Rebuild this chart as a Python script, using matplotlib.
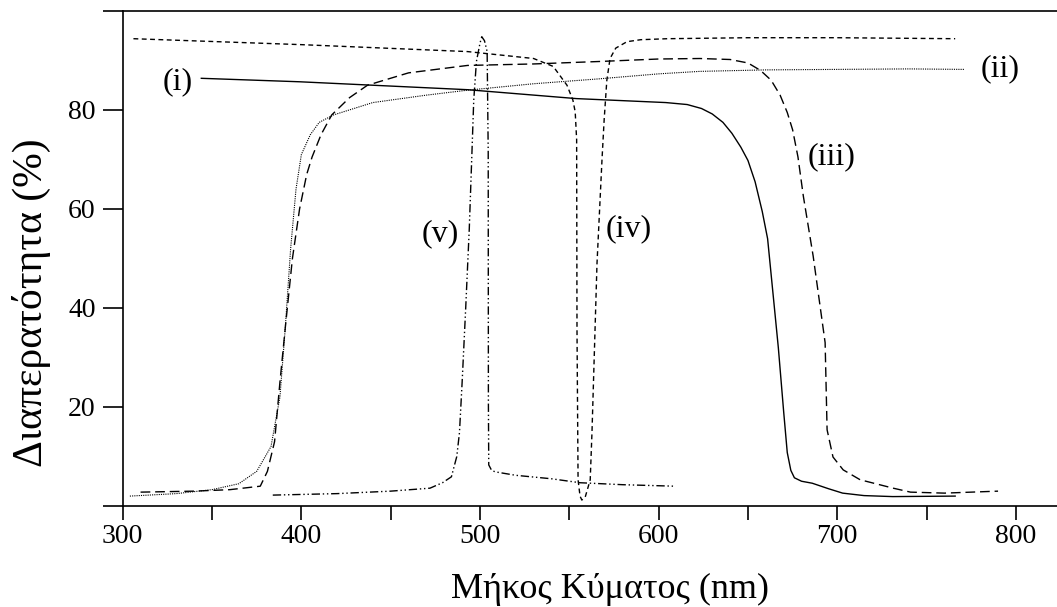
import numpy as np
import matplotlib.pyplot as plt

plt.rcParams['font.family'] = ['Liberation Serif', 'DejaVu Serif']

# (i) solid
wl_i = [344, 399, 493, 554, 604, 616, 624, 630, 636, 641, 646, 650, 654, 658, 661,
        664, 667, 670, 672, 674, 676, 680, 686, 695, 703, 715, 731, 766]
tr_i = [86.4, 85.7, 84.1, 82.3, 81.5, 81.1, 80.3, 79.2, 77.5, 75.3, 72.5, 69.8, 65.5,
        59.5, 54, 43, 32, 19, 10.8, 7.2, 5.7, 5.0, 4.6, 3.5, 2.6, 2.1, 1.9, 2.0]

# (ii) dotted
wl_ii = [304, 330, 350, 365, 375, 383, 388, 391, 394, 397, 400, 405, 410, 418,
         440, 470, 493, 530, 567, 600, 623, 660, 700, 740, 771]
tr_ii = [2.0, 2.5, 3.3, 4.5, 7, 12, 22, 36, 52, 64, 71, 75, 77.5, 79,
         81.5, 83, 84, 85.3, 86.3, 87.3, 87.8, 88.1, 88.2, 88.3, 88.2]

# (iii) long dash
wl_iii = [310, 340, 360, 377, 381, 385, 388, 391, 395, 399, 403, 406, 411, 417,
          427, 437, 460, 493, 530, 567, 600, 623, 640, 650, 657, 663, 668, 672,
          675, 678, 681, 686.5, 693.2, 694.3, 697.6, 703.3, 712.8, 731.3, 741, 760, 790]
tr_iii = [2.8, 3.0, 3.3, 4.0, 7, 13, 25, 36, 50, 60, 67, 70.5, 75, 79,
          82.5, 85, 87.5, 89, 89.3, 89.8, 90.3, 90.4, 90.2, 89.5, 88, 86, 83, 79.5,
          76, 70.5, 62.6, 50.5, 33, 15.4, 9.9, 7.3, 5.3, 3.6, 2.8, 2.6, 3.0]

# (iv) short dash
wl_iv = [306, 400, 493, 530, 541, 548.7, 552, 553.3, 554.1, 554.3, 554.9, 556, 557,
         558.9, 561.7, 562.7, 565.5, 568.3, 569.5, 571, 572.8, 576, 582.3, 590, 605,
         650, 700, 766]
tr_iv = [94.4, 93.2, 91.8, 90.4, 88.8, 85, 82, 79.6, 74, 35.6, 5.3, 2, 1.2,
         1.8, 5.3, 15, 49, 70, 78, 86, 90.4, 92.5, 93.8, 94.2, 94.4,
         94.6, 94.6, 94.4]

# (v) dash-dot
wl_v = [384, 420, 450, 472, 479, 484, 487, 488.5, 490, 492, 494, 495.5, 496.5, 498,
        500, 501, 502.5, 504, 504.6, 504.7, 504.9, 506.5, 508.5, 520, 540, 556, 580, 609]
tr_v = [2.2, 2.5, 3.0, 3.6, 4.7, 5.9, 10, 14.8, 25, 40, 56, 71.5, 82, 89.8,
        93.5, 94.8, 94, 91.8, 71.5, 21, 8.3, 7.2, 6.9, 6.2, 5.5, 4.7, 4.3, 4.0]

labels = ['(i)', '(ii)', '(iii)', '(iv)', '(v)']
label_pos = [(331, 85.7), (791, 88.3), (697, 70.5), (583, 56), (478, 55)]

fig = plt.figure(figsize=(10.57, 6.07), dpi=100)
ax = fig.add_axes([0.1161, 0.1664, 0.8839, 0.8155])

ax.plot(wl_i, tr_i, color='black', lw=1.0, linestyle='-')
ax.plot(wl_ii, tr_ii, color='black', lw=0.8, linestyle=(0, (1, 1)))
ax.plot(wl_iii, tr_iii, color='black', lw=1.0, linestyle=(0, (7, 3.5)))
ax.plot(wl_iv, tr_iv, color='black', lw=1.0, linestyle=(0, (3.5, 2.5)))
ax.plot(wl_v, tr_v, color='black', lw=1.0, linestyle=(0, (6, 2, 1, 2, 1, 2)))

for txt, (lx, ly) in zip(labels, label_pos):
    ax.text(lx, ly, txt, fontsize=23, ha='center', va='center')

ax.set_xlim(300, 823)
ax.set_ylim(0, 100)

ax.spines['right'].set_visible(False)
for s in ['top', 'bottom', 'left']:
    ax.spines[s].set_linewidth(1.2)

ax.set_xticks(np.arange(300, 801, 50))
ax.set_xticklabels([str(v) if v % 100 == 0 else '' for v in range(300, 801, 50)])
ax.set_yticks(np.arange(0, 101, 20))
ax.set_yticklabels(['', '20', '40', '60', '80', ''])
ax.tick_params(axis='x', direction='out', length=10, width=1.2, labelsize=20, pad=3)
ax.tick_params(axis='y', direction='out', length=14.4, width=1.2, labelsize=20, pad=5)

ax.set_xlabel('Μήκος Κύματος (nm)', fontsize=26)
ax.xaxis.set_label_coords(0.522, -0.135)
ax.set_ylabel('Διαπερατότητα (%)', fontsize=30)
ax.yaxis.set_label_coords(-0.077, 0.41)

fig.savefig('out.png', dpi=100)
